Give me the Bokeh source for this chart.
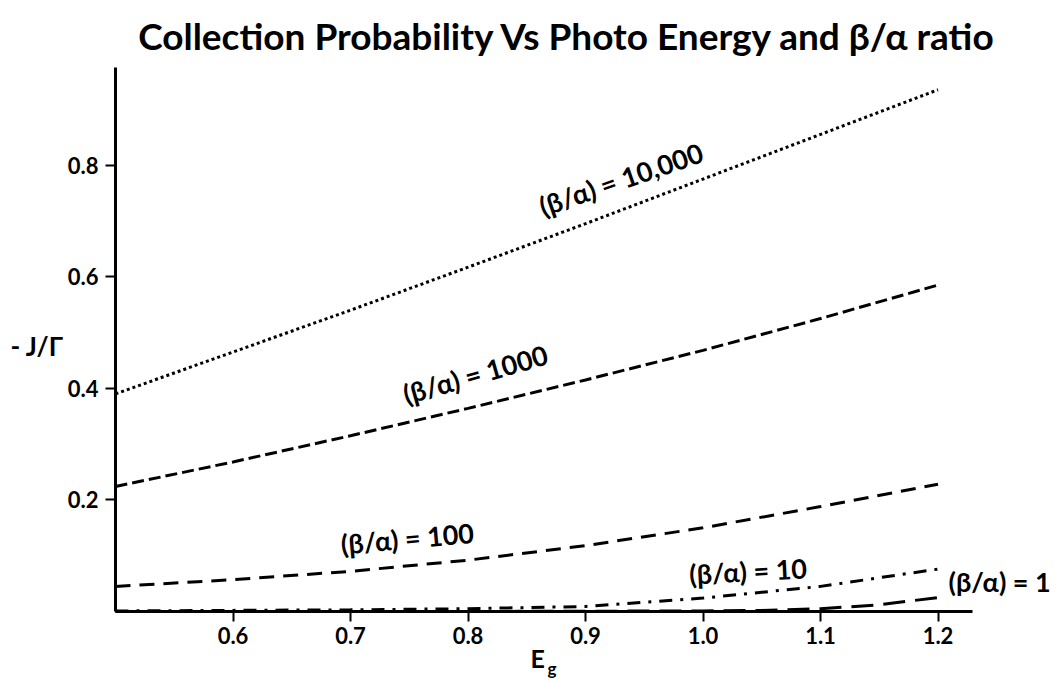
from bokeh.plotting import figure
from bokeh.models import Label, NumeralTickFormatter, FixedTicker, Range1d
from bokeh.embed import file_html
from bokeh.resources import INLINE

# ---- data ----
x_vals = [0.5, 0.6, 0.7, 0.8, 0.9, 1.0, 1.1, 1.2]
y_10000 = [0.39, 0.465, 0.54, 0.617, 0.695, 0.775, 0.855, 0.935]
y_1000 = [0.224, 0.268, 0.315, 0.364, 0.415, 0.468, 0.525, 0.585]
y_100 = [0.045, 0.057, 0.072, 0.092, 0.118, 0.150, 0.188, 0.228]
y_10 = [0.001, 0.002, 0.003, 0.005, 0.009, 0.024, 0.045, 0.076]
x_1 = [0.5, 0.8, 1.0, 1.05, 1.1, 1.15, 1.2]
y_1 = [0.0, 0.0, 0.001, 0.002, 0.005, 0.012, 0.025]

x_ticks = [0.6, 0.7, 0.8, 0.9, 1.0, 1.1, 1.2]
y_ticks = [0.2, 0.4, 0.6, 0.8]

title_text = "Collection Probability Vs Photo Energy and β/α ratio"
series_labels = ["(β/α) = 10,000", "(β/α) = 1000", "(β/α) = 100", "(β/α) = 10", "(β/α) = 1"]

FONT = "Lato"

W, H = 1054, 680
p = figure(width=W, height=H, output_backend="svg", toolbar_location=None,
           x_range=Range1d(0.5 - 115 / 1175, 0.5 + (W - 115) / 1175),
           y_range=Range1d((611 - H) / 558, 611 / 558),
           min_border=0)
p.title.visible = False
p.outline_line_color = None
p.grid.visible = False
p.background_fill_color = "white"
p.border_fill_color = "white"

for ax in (p.xaxis, p.yaxis):
    ax.axis_line_width = 3
    ax.axis_line_color = "black"
    ax.major_tick_line_width = 2
    ax.major_tick_line_color = "black"
    ax.major_tick_out = 10
    ax.major_tick_in = 0
    ax.minor_tick_line_color = None
    ax.major_label_text_font = FONT
    ax.major_label_text_font_style = "bold"
    ax.major_label_text_font_size = "22px"
    ax.major_label_text_color = "black"
    ax.formatter = NumeralTickFormatter(format="0.0")
p.xaxis.ticker = FixedTicker(ticks=x_ticks)
p.yaxis.ticker = FixedTicker(ticks=y_ticks)
p.xaxis.fixed_location = 0.0
p.yaxis.fixed_location = 0.5
p.xaxis.bounds = (0.5, 1.2294)
p.yaxis.bounds = (0.0, 0.975)
p.xaxis.major_label_standoff = 5
p.yaxis.major_label_standoff = 7

# ---- curves ----
p.line(x_vals, y_10000, line_color="black", line_width=3, line_dash="3 3")
p.line(x_vals, y_1000, line_color="black", line_width=3, line_dash="12 5")
p.line(x_vals, y_100, line_color="black", line_width=3, line_dash="15 9")
p.line(x_vals, y_10, line_color="black", line_width=3, line_dash="13 8 3 8")
p.line(x_1, y_1, line_color="black", line_width=3, line_dash="22 10")

def lab(x, y, t, size, angle=0, align="left", baseline="bottom"):
    p.add_layout(Label(x=x, y=y, text=t, text_font=FONT, text_font_style="bold",
                       text_font_size=size, text_color="black", angle=angle, angle_units="deg",
                       text_align=align, text_baseline=baseline))

lab(0.866, 0.697, series_labels[0], "27px", angle=19)
lab(0.749, 0.360, series_labels[1], "27px", angle=16)
lab(0.693, 0.0914, series_labels[2], "27px", angle=5)
lab(0.989, 0.0376, series_labels[3], "27px", angle=3)
lab(1.209, 0.0233, series_labels[4], "27px", angle=0)

# chart title and axis titles
lab(0.8847, 0.9928, title_text, "37px", align="center", baseline="bottom")
lab(0.4106, 0.475, "- J/Γ", "26px", align="left", baseline="middle")
lab(0.8532, -0.1111, "E", "25px", align="left", baseline="bottom")
lab(0.8677, -0.1201, "g", "17px", align="left", baseline="bottom")

open("out.html", "w").write(file_html(p, INLINE))
